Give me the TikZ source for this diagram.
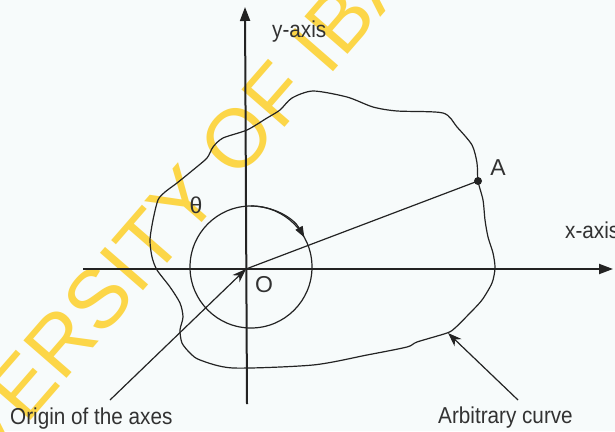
\documentclass[tikz,border=0pt]{standalone}
\usepackage{fontspec}
\setmainfont{Liberation Sans}
\usetikzlibrary{arrows.meta}
\definecolor{ink}{RGB}{35,35,35}
\definecolor{txt}{RGB}{50,50,50}
\definecolor{wm}{RGB}{252,214,72}
\definecolor{bg}{RGB}{247,251,251}
\newcommand{\narrowtxt}[1]{\scalebox{0.9}[1]{#1}}
\begin{document}
\begin{tikzpicture}[x=1pt,y=-1pt,
  axisline/.style={draw=ink, line width=2pt, -{Triangle[length=14pt,width=10pt]}},
  thinline/.style={draw=ink, line width=1.2pt},
  arcarrow/.style={draw=ink, line width=1.2pt, -{Triangle[length=11pt,width=8pt]}},
  ptr/.style={draw=ink, line width=1.2pt, -{Stealth[length=14pt,width=10pt]}},
  lab/.style={text=txt, font=\fontsize{23}{24}\selectfont, inner sep=0pt},
  dotnode/.style={circle, fill=ink, inner sep=0pt, minimum size=8pt},
]
\fill[bg] (0,0) rectangle (615,431);
\useasboundingbox (0,0) rectangle (615,431);

% watermark
\node[anchor=base west, rotate=49, text=wm, font=\fontsize{83}{83}\selectfont, inner sep=0pt] (wmark) at (-104,575) {UNIVERSITY OF IBADAN};

% coordinates
\coordinate (O) at (246,269);
\coordinate (C) at (251,267);
\coordinate (xl) at (83,269);
\coordinate (xr) at (613,269);
\coordinate (yb) at (247,404);
\coordinate (yt) at (245,7);
\coordinate (p1) at (110,400);
\coordinate (p2) at (518,400);
\coordinate (p2t) at (448,333);

% arbitrary curve
\draw[thinline] plot[smooth cycle, tension=0.45] coordinates {
(313,91) (347,97) (373,107) (397,111) (443,113) (457,127) (472,145) (477,163)
(478,181) (483,200) (485,220) (488,237) (493,253) (495,268) (492,283) (482,300)
(470,313) (455,328) (447,333) (417,342) (407,347) (367,355) (313,365) (233,368)
(200,360) (190,353) (182,343) (180,330) (183,317) (180,303) (170,287) (157,270)
(152,257) (150,240) (153,220) (158,200) (165,192) (177,183) (193,170) (207,158)
(213,147) (223,138) (247,130) (267,118) (280,110) (292,98)};

% axes
\draw[axisline] (xl) -- (xr);
\draw[axisline] (yb) -- (yt);

% circle and theta arrow
\draw[thinline] (C) circle[radius=61];
\draw[arcarrow] (C) ++(0,-61) arc[start angle=-90, end angle=-29, radius=61];

% point A and radius
\node[dotnode] (A) at (478,181) {};
\draw[thinline] (O) -- (A.center);

% labels
\node[lab, anchor=base west] (ylab) at (272,37) {\narrowtxt{y-axis}};
\node[lab, anchor=base west] (xlab) at (565,238) {\narrowtxt{x-axis}};
\node[lab] (theta) at (196,205) {θ};
\node[lab] (olab) at (264,285) {O};
\node[lab] (alab) at (498,168) {A};
\node[lab, anchor=base west] (orig) at (10,424) {\narrowtxt{Origin of the axes}};
\node[lab, anchor=base west] (arb) at (438,423) {\narrowtxt{Arbitrary curve}};

% pointers
\draw[ptr] (p1) -- (O);
\draw[ptr] (p2) -- (p2t);
\end{tikzpicture}
\end{document}
